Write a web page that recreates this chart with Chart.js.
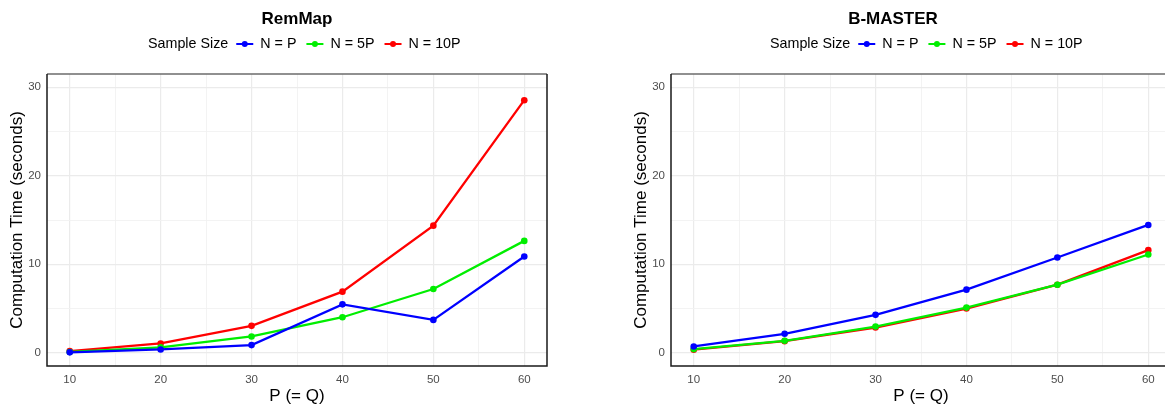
<!DOCTYPE html>
<html>
<head>
<meta charset="utf-8">
<script src="https://cdn.jsdelivr.net/npm/chart.js@4"></script>
<style>
  html, body { margin: 0; padding: 0; background: #fff; overflow: hidden; }
  #wrap { position: relative; width: 1165px; height: 411px; overflow: hidden; }
  .panel { position: absolute; top: 0; width: 582px; height: 411px; }
  #left { left: 0; }
  #right { left: 624px; }
</style>
</head>
<body>
<div id="wrap">
  <div class="panel" id="left"><canvas id="remmap" width="582" height="411"></canvas></div>
  <div class="panel" id="right"><canvas id="bmaster" width="582" height="411"></canvas></div>
</div>
<script>
const pValues = [10, 20, 30, 40, 50, 60];
const seriesLabels = ['N = P', 'N = 5P', 'N = 10P'];
const seriesColors = ['#0000ff', '#00ee00', '#ff0000'];

// RemMap timings (seconds)
const remmapNP = [0.04, 0.37, 0.86, 5.47, 3.71, 10.87];
const remmapN5P = [0.08, 0.60, 1.84, 4.01, 7.20, 12.64];
const remmapN10P = [0.19, 1.05, 3.04, 6.90, 14.36, 28.54];

// B-MASTER timings (seconds)
const bmasterNP = [0.71, 2.14, 4.28, 7.13, 10.76, 14.44];
const bmasterN5P = [0.41, 1.35, 2.96, 5.10, 7.69, 11.10];
const bmasterN10P = [0.34, 1.31, 2.85, 4.99, 7.69, 11.59];

const xMajor = [10, 20, 30, 40, 50, 60];
const xMinor = [15, 25, 35, 45, 55];
const yMajor = [0, 10, 20, 30];
const yMinor = [5, 15, 25];

const FONT = 'Liberation Sans, Arial, sans-serif';

// title + inline legend + panel border, drawn like the ggplot version
const decorPlugin = {
  id: 'decor',
  afterDraw(chart, args, opts) {
    const ctx = chart.ctx;
    const a = chart.chartArea;
    ctx.save();
    // border
    ctx.lineWidth = 1.5;
    ctx.strokeStyle = '#6b6b6b';
    ctx.beginPath();
    ctx.moveTo(a.left, a.top);
    ctx.lineTo(a.right, a.top);
    ctx.stroke();
    ctx.strokeStyle = '#1a1a1a';
    ctx.beginPath();
    ctx.moveTo(a.right, a.top);
    ctx.lineTo(a.right, a.bottom);
    ctx.lineTo(a.left, a.bottom);
    ctx.lineTo(a.left, a.top);
    ctx.stroke();

    // title
    ctx.fillStyle = '#000';
    ctx.font = 'bold 17px ' + FONT;
    ctx.textAlign = 'center';
    ctx.textBaseline = 'middle';
    ctx.fillText(opts.title, opts.titleX, 19);

    // legend
    ctx.font = '14.3px ' + FONT;
    ctx.textAlign = 'left';
    let x = opts.legendX;
    const y = 44;
    ctx.fillText('Sample Size', x, y);
    x += ctx.measureText('Sample Size').width + 8;
    chart.data.datasets.forEach(ds => {
      ctx.strokeStyle = ds.borderColor;
      ctx.lineWidth = 2;
      ctx.beginPath();
      ctx.moveTo(x, y);
      ctx.lineTo(x + 17, y);
      ctx.stroke();
      ctx.fillStyle = ds.borderColor;
      ctx.beginPath();
      ctx.arc(x + 8.5, y, 3, 0, Math.PI * 2);
      ctx.fill();
      x += 24;
      ctx.fillStyle = '#000';
      ctx.fillText(ds.label, x, y);
      x += ctx.measureText(ds.label).width + 10;
    });
    ctx.restore();
  }
};

function makeChart(canvasId, title, titleX, legendX, series) {
  const ctx = document.getElementById(canvasId).getContext('2d');
  return new Chart(ctx, {
    type: 'line',
    data: {
      datasets: series.map((vals, i) => ({
        label: seriesLabels[i],
        data: pValues.map((p, j) => ({ x: p, y: vals[j] })),
        borderColor: seriesColors[i],
        backgroundColor: seriesColors[i],
        borderWidth: 2.3,
        pointRadius: 3.3,
        pointHoverRadius: 3.3,
        pointBorderWidth: 0,
        tension: 0,
        fill: false
      }))
    },
    options: {
      responsive: false,
      animation: false,
      events: [],
      layout: { padding: { top: 74, left: 0, right: 35, bottom: 0 } },
      plugins: {
        legend: { display: false },
        title: { display: false },
        tooltip: { enabled: false },
        decor: { title: title, titleX: titleX, legendX: legendX }
      },
      scales: {
        x: {
          type: 'linear',
          min: 7.5,
          max: 62.5,
          afterBuildTicks: s => { s.ticks = xMajor.concat(xMinor).sort((a, b) => a - b).map(v => ({ value: v })); },
          afterFit: s => { s.height = 45; },
          ticks: {
            autoSkip: false,
            maxRotation: 0,
            padding: 7,
            color: '#4d4d4d',
            font: { family: FONT, size: 11.5 },
            callback: v => xMajor.includes(v) ? String(v) : ''
          },
          grid: {
            drawTicks: false,
            color: c => xMajor.includes(c.tick.value) ? '#ebebeb' : '#f2f2f2',
            lineWidth: c => xMajor.includes(c.tick.value) ? 1.2 : 0.9
          },
          border: { display: false },
          title: {
            display: true,
            text: 'P (= Q)',
            color: '#000',
            font: { family: FONT, size: 17 },
            padding: { top: 0, bottom: 4 }
          }
        },
        y: {
          type: 'linear',
          min: -1.5,
          max: 31.5,
          afterBuildTicks: s => { s.ticks = yMajor.concat(yMinor).sort((a, b) => a - b).map(v => ({ value: v })); },
          afterFit: s => { s.width = 47; },
          ticks: {
            autoSkip: false,
            padding: 6,
            color: '#4d4d4d',
            font: { family: FONT, size: 11.5 },
            callback: v => yMajor.includes(v) ? String(v) : ''
          },
          grid: {
            drawTicks: false,
            color: c => yMajor.includes(c.tick.value) ? '#ebebeb' : '#f2f2f2',
            lineWidth: c => yMajor.includes(c.tick.value) ? 1.2 : 0.9
          },
          border: { display: false },
          title: {
            display: true,
            text: 'Computation Time (seconds)',
            color: '#000',
            font: { family: FONT, size: 17 },
            padding: { top: 7, bottom: 0 }
          }
        }
      }
    },
    plugins: [decorPlugin]
  });
}

makeChart('remmap', 'RemMap', 297, 148, [remmapNP, remmapN5P, remmapN10P]);
makeChart('bmaster', 'B-MASTER', 269, 146, [bmasterNP, bmasterN5P, bmasterN10P]);
</script>
</body>
</html>
